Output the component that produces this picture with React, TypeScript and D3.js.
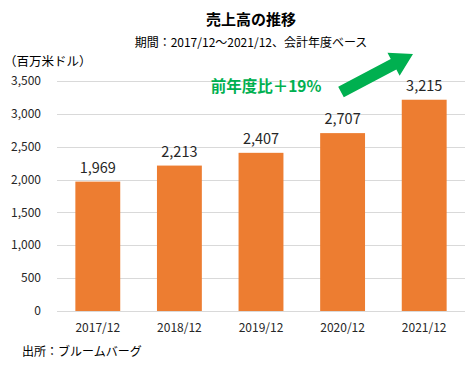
import React, { useEffect, useRef } from "react";
import * as d3 from "d3";

const categories = ["2017/12", "2018/12", "2019/12", "2020/12", "2021/12"];
const revenue = [1969, 2213, 2407, 2707, 3215];
const yTicks = [0, 500, 1000, 1500, 2000, 2500, 3000, 3500];

const FONT = "'Noto Sans CJK JP', 'Noto Sans', sans-serif";

export default function App() {
  const svgRef = useRef<SVGSVGElement>(null);

  useEffect(() => {
    const width = 473;
    const height = 367;
    const margin = { top: 81, right: 8, bottom: 56, left: 57 };

    const root = d3.select(svgRef.current);
    root.selectAll("*").remove();
    root.attr("width", width).attr("height", height);

    root.append("rect").attr("width", width).attr("height", height).attr("fill", "#fff");

    const x = d3
      .scaleBand()
      .domain(categories)
      .range([margin.left, width - margin.right])
      .paddingInner(0.45)
      .paddingOuter(0.225);
    const y = d3
      .scaleLinear()
      .domain([0, 3500])
      .range([height - margin.bottom, margin.top]);

    // Gridlines
    root
      .append("g")
      .selectAll("line")
      .data(yTicks)
      .join("line")
      .attr("x1", margin.left)
      .attr("x2", width - margin.right)
      .attr("y1", (d) => Math.round(y(d)) + 0.5)
      .attr("y2", (d) => Math.round(y(d)) + 0.5)
      .attr("stroke", "#d9d9d9")
      .attr("stroke-width", 1);

    // Y axis labels
    root
      .append("g")
      .selectAll("text")
      .data(yTicks)
      .join("text")
      .attr("x", 41)
      .attr("y", (d) => y(d))
      .attr("dy", "0.35em")
      .attr("text-anchor", "end")
      .attr("font-family", FONT)
      .attr("font-size", 12)
      .attr("fill", "#262626")
      .text((d) => d3.format(",")(d));

    // Bars
    root
      .append("g")
      .selectAll("rect")
      .data(revenue)
      .join("rect")
      .attr("x", (_, i) => x(categories[i])!)
      .attr("y", (d) => y(d))
      .attr("width", x.bandwidth())
      .attr("height", (d) => y(0) - y(d))
      .attr("fill", "#ed7d31");

    // Value labels
    root
      .append("g")
      .selectAll("text")
      .data(revenue)
      .join("text")
      .attr("x", (_, i) => x(categories[i])! + x.bandwidth() / 2)
      .attr("y", (d) => y(d) - 9)
      .attr("text-anchor", "middle")
      .attr("font-family", FONT)
      .attr("font-size", 14.5)
      .attr("fill", "#262626")
      .text((d) => d3.format(",")(d));

    // X labels
    root
      .append("g")
      .selectAll("text")
      .data(categories)
      .join("text")
      .attr("x", (d) => x(d)! + x.bandwidth() / 2)
      .attr("y", y(0) + 21)
      .attr("text-anchor", "middle")
      .attr("font-family", FONT)
      .attr("font-size", 12)
      .attr("fill", "#262626")
      .text((d) => d);

    // Titles
    root
      .append("text")
      .attr("x", 251)
      .attr("y", 25)
      .attr("text-anchor", "middle")
      .attr("font-family", FONT)
      .attr("font-size", 15)
      .attr("font-weight", "bold")
      .attr("fill", "#000")
      .text("売上高の推移");

    root
      .append("text")
      .attr("x", 251)
      .attr("y", 47)
      .attr("text-anchor", "middle")
      .attr("font-family", FONT)
      .attr("font-size", 12)
      .attr("fill", "#000")
      .text("期間：2017/12～2021/12、会計年度ベース");

    root
      .append("text")
      .attr("x", 4)
      .attr("y", 66)
      .attr("font-family", FONT)
      .attr("font-size", 12.5)
      .attr("fill", "#000")
      .text("（百万米ドル）");

    root
      .append("text")
      .attr("x", 22)
      .attr("y", 356)
      .attr("font-family", FONT)
      .attr("font-size", 12)
      .attr("fill", "#000")
      .text("出所：ブルームバーグ");

    // Growth annotation
    root
      .append("text")
      .attr("x", 266)
      .attr("y", 92)
      .attr("text-anchor", "middle")
      .attr("font-family", FONT)
      .attr("font-size", 15.5)
      .attr("font-weight", "bold")
      .attr("fill", "#00b050")
      .text("前年度比＋19%");

    // Arrow (block arrow)
    const x0 = 341, y0 = 92, x1 = 413, y1 = 54;
    const ang = Math.atan2(y1 - y0, x1 - x0);
    const len = Math.hypot(x1 - x0, y1 - y0);
    const shaftW = 6, headW = 13, headL = 22;
    const pts: [number, number][] = [
      [0, -shaftW],
      [len - headL, -shaftW],
      [len - headL, -headW],
      [len, 0],
      [len - headL, headW],
      [len - headL, shaftW],
      [0, shaftW],
    ];
    root
      .append("polygon")
      .attr(
        "points",
        pts
          .map(([px, py]) => {
            const rx = x0 + px * Math.cos(ang) - py * Math.sin(ang);
            const ry = y0 + px * Math.sin(ang) + py * Math.cos(ang);
            return `${rx},${ry}`;
          })
          .join(" ")
      )
      .attr("fill", "#00b050");
  }, []);

  return (
    <div style={{ position: "absolute", left: 0, top: 0 }}>
      <svg ref={svgRef}></svg>
    </div>
  );
}
